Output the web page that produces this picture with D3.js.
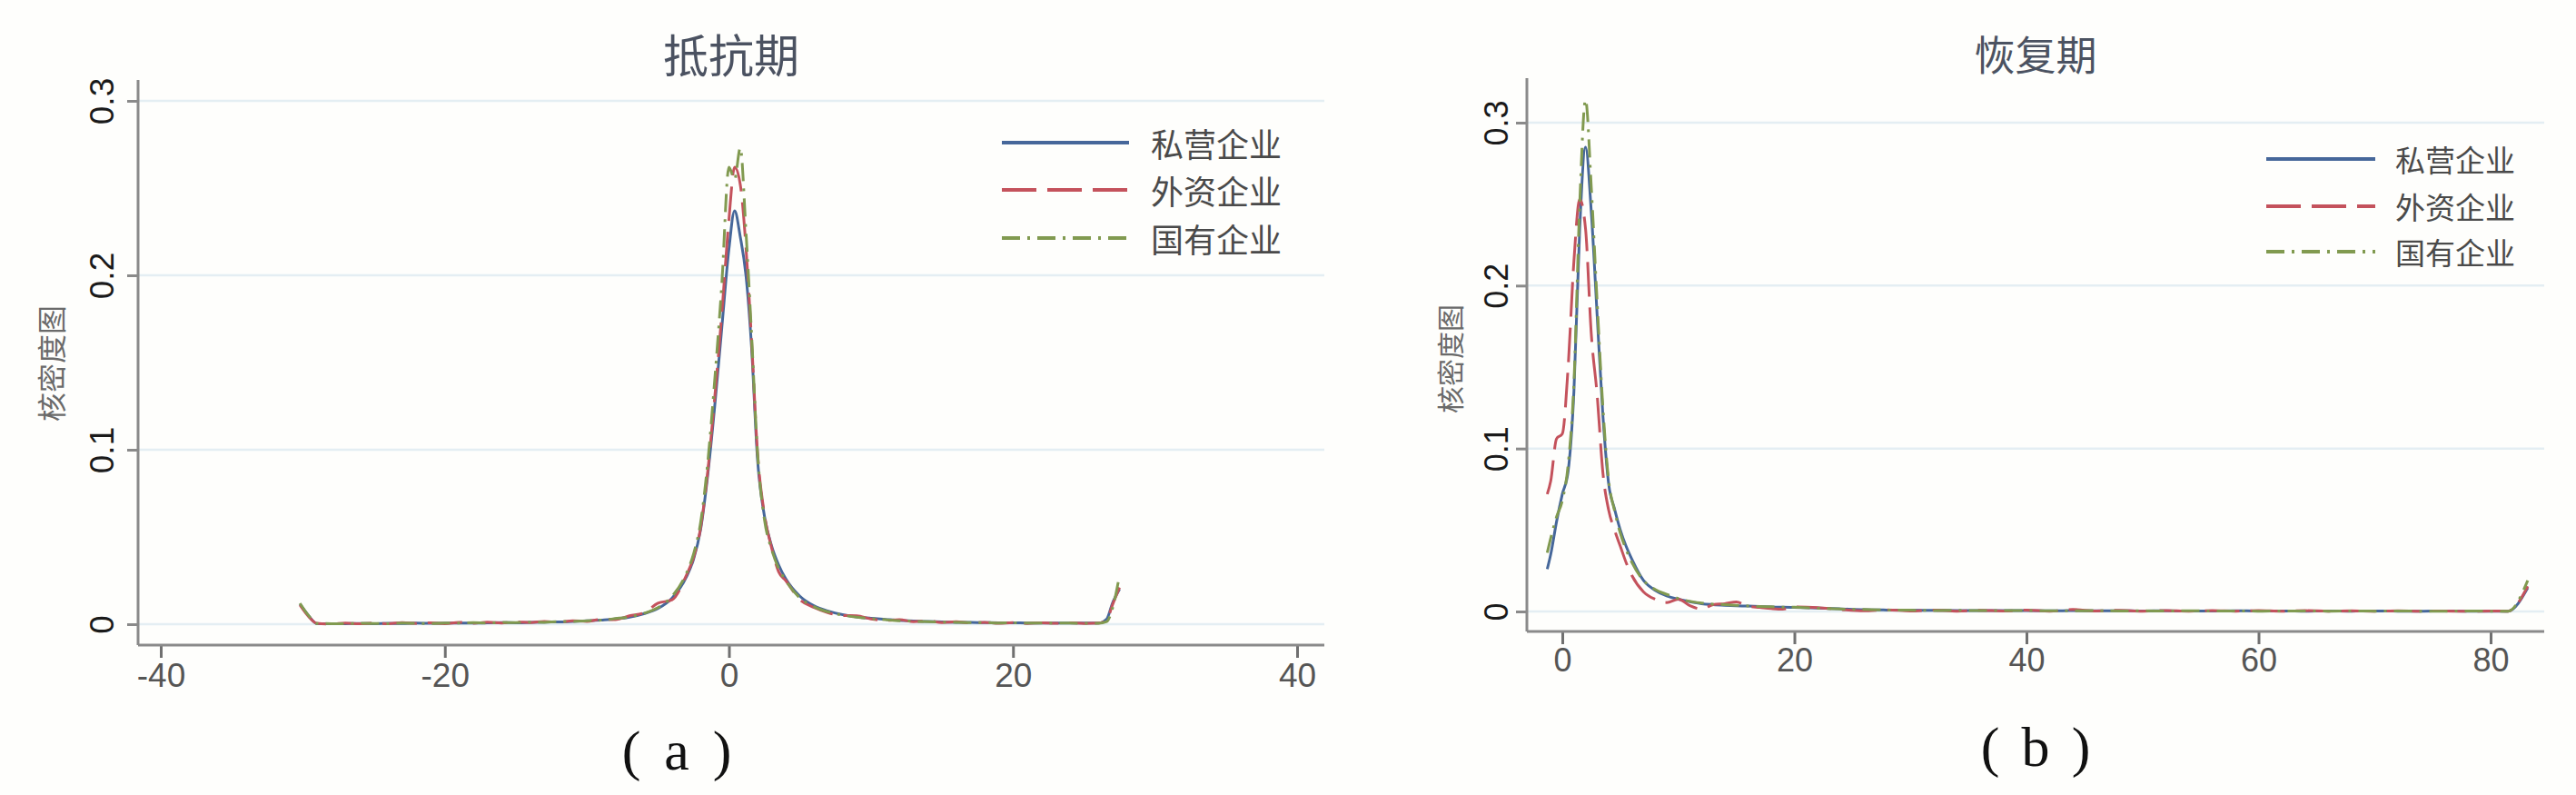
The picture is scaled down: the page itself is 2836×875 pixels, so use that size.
<!DOCTYPE html>
<html>
<head>
<meta charset="utf-8">
<script src="https://cdn.jsdelivr.net/npm/d3@7"></script>
<style>
  body { margin: 0; background: #fefefc; }
  svg { display: block; }
</style>
</head>
<body>
<script>
// series names and colours
let seriesNames = ["私营企业", "外资企业", "国有企业"];
let seriesColors = ["#46679a", "#c4525c", "#819a50"];
let seriesDash = [null, "38,12", "20,8,3,8"];

// panel (a) 抵抗期
let xA = [-30.2, -29.6, -29, -28, -27, -26, -25, -24, -23, -22, -21, -20, -19, -18, -17, -16, -15, -14, -13, -12,
    -11, -10, -9, -8, -7, -6, -5, -4, -3, -2.5, -2, -1.5, -1, -0.5, 0, 0.4, 0.8, 1.2, 1.6, 2,
    2.5, 3, 3.5, 4, 5, 6, 7, 8, 9, 10, 11, 12, 13, 14, 15, 16, 17, 18, 19, 20,
    21, 22, 23, 24, 25, 26, 26.6, 27, 27.5];
let privA = [0.0115, 0.005, 0.0003, 0.0002, 0.0003, 0.0004, 0.0003, 0.0005, 0.0004, 0.0006, 0.0005, 0.0006, 0.0007, 0.0006, 0.0008, 0.0009, 0.0008, 0.001, 0.0012, 0.0013,
    0.0016, 0.0019, 0.0024, 0.003, 0.004, 0.006, 0.009, 0.015, 0.027, 0.037, 0.054, 0.085, 0.125, 0.17, 0.215, 0.237, 0.222, 0.2, 0.158, 0.096,
    0.062, 0.045, 0.034, 0.026, 0.016, 0.0105, 0.0075, 0.0055, 0.0042, 0.0034, 0.0028, 0.0022, 0.0018, 0.0015, 0.0013, 0.0011, 0.001, 0.0009, 0.0008, 0.0008,
    0.0007, 0.0007, 0.0006, 0.0007, 0.0006, 0.0006, 0.003, 0.012, 0.02];
let foreignA = [0.011, 0.0045, 0.0005, 0.0001, 0.0006, 0.0002, 0.0007, 0.0003, 0.0009, 0.0004, 0.0008, 0.0003, 0.0011, 0.0005, 0.0012, 0.0007, 0.0014, 0.0009, 0.0016, 0.0011,
    0.002, 0.0016, 0.0028, 0.0026, 0.0048, 0.0065, 0.012, 0.014, 0.028, 0.038, 0.055, 0.087, 0.13, 0.178, 0.232, 0.262, 0.252, 0.216, 0.162, 0.1,
    0.063, 0.044, 0.03, 0.025, 0.014, 0.0095, 0.0065, 0.005, 0.0048, 0.003, 0.0022, 0.0026, 0.0014, 0.0019, 0.0009, 0.0014, 0.0007, 0.0011, 0.0005, 0.0009,
    0.0004, 0.0008, 0.0005, 0.0008, 0.0004, 0.0006, 0.0025, 0.011, 0.021];
let stateA = [0.012, 0.005, 0.0004, 0.0003, 0.0002, 0.0005, 0.0004, 0.0003, 0.0006, 0.0005, 0.0004, 0.0007, 0.0006, 0.0009, 0.0007, 0.001, 0.0009, 0.0012, 0.0011, 0.0015,
    0.0015, 0.002, 0.0023, 0.0032, 0.0042, 0.0062, 0.0095, 0.016, 0.029, 0.04, 0.058, 0.092, 0.14, 0.195, 0.262, 0.255, 0.273, 0.225, 0.165, 0.1,
    0.06, 0.043, 0.032, 0.025, 0.015, 0.01, 0.007, 0.0052, 0.004, 0.0032, 0.0026, 0.002, 0.0017, 0.0014, 0.0012, 0.0011, 0.0009, 0.0009, 0.0007, 0.0008,
    0.0006, 0.0007, 0.0006, 0.0006, 0.0005, 0.0005, 0.0015, 0.009, 0.028];
let xTicksA = [-40, -20, 0, 20, 40];

// panel (b) 恢复期
let xB = [-1.3, -1, -0.5, 0, 0.5, 1, 1.5, 2, 2.5, 3, 3.5, 4, 4.5, 5, 5.5, 6, 7, 8, 9, 10,
    11, 12, 13, 14, 15, 16, 17, 18, 19, 20, 22, 24, 26, 28, 30, 32, 34, 36, 38, 40,
    42, 44, 46, 48, 50, 52, 54, 56, 58, 60, 62, 64, 66, 68, 70, 72, 74, 76, 78, 80,
    81.5, 83.2];
let privB = [0.026, 0.035, 0.055, 0.072, 0.086, 0.135, 0.235, 0.285, 0.245, 0.182, 0.12, 0.078, 0.063, 0.05, 0.04, 0.032, 0.019, 0.013, 0.0095, 0.0075,
    0.006, 0.0048, 0.0042, 0.0038, 0.0035, 0.0033, 0.003, 0.0028, 0.0026, 0.0025, 0.0021, 0.0016, 0.0011, 0.0009, 0.0008, 0.0007, 0.0006, 0.0005, 0.0006, 0.0005,
    0.0004, 0.0005, 0.0004, 0.0004, 0.0003, 0.0004, 0.0003, 0.0003, 0.0004, 0.0003, 0.0003, 0.0002, 0.0003, 0.0002, 0.0003, 0.0002, 0.0002, 0.0003, 0.0002, 0.0002,
    0.0002, 0.0145];
let foreignB = [0.072, 0.08, 0.106, 0.109, 0.15, 0.215, 0.253, 0.235, 0.17, 0.133, 0.085, 0.062, 0.05, 0.04, 0.03, 0.022, 0.012, 0.0075, 0.0055, 0.0075,
    0.0035, 0.0015, 0.0042, 0.0048, 0.0058, 0.0032, 0.0025, 0.0018, 0.0014, 0.0028, 0.0024, 0.0012, 0.0004, 0.001, 0.0003, 0.0009, 0.0002, 0.0007, 0.0003, 0.0008,
    0.0002, 0.0012, 0.0003, 0.0007, 0.0002, 0.0006, 0.0002, 0.0005, 0.0002, 0.0006, 0.0001, 0.0005, 0.0002, 0.0004, 0.0001, 0.0004, 0.0002, 0.0003, 0.0001, 0.0003,
    0.0002, 0.0155];
let stateB = [0.036, 0.045, 0.058, 0.068, 0.09, 0.14, 0.25, 0.314, 0.26, 0.19, 0.125, 0.08, 0.062, 0.048, 0.038, 0.03, 0.019, 0.0135, 0.0105, 0.008,
    0.0062, 0.0052, 0.0045, 0.0042, 0.0038, 0.0034, 0.003, 0.0029, 0.0027, 0.0026, 0.002, 0.0015, 0.0012, 0.0009, 0.0008, 0.0006, 0.0007, 0.0005, 0.0005, 0.0006,
    0.0004, 0.0004, 0.0005, 0.0003, 0.0004, 0.0003, 0.0004, 0.0003, 0.0003, 0.0002, 0.0003, 0.0003, 0.0002, 0.0003, 0.0002, 0.0003, 0.0002, 0.0002, 0.0003, 0.0002,
    0.0001, 0.019];
let xTicksB = [0, 20, 40, 60, 80];

let yTicks = [0, 0.1, 0.2, 0.3];
let yTickLabels = ["0", "0.1", "0.2", "0.3"];

let width = 2836;
let height = 875;

let svg = d3.select("body")
    .append("svg")
    .attr("width", width)
    .attr("height", height);

function drawPanel(p) {
    let xScale = d3.scaleLinear().domain(p.xDomain).range(p.xRange);
    let yScale = d3.scaleLinear().domain([0, 0.3]).range(p.yRange);
    let g = svg.append("g");

    // grid lines
    g.selectAll("nothing")
        .data(yTicks)
        .join("line")
        .attr("x1", p.left)
        .attr("x2", p.right)
        .attr("y1", (d) => yScale(d))
        .attr("y2", (d) => yScale(d))
        .attr("stroke", "#e4eef3")
        .attr("stroke-width", 2.5);

    // y axis
    let yAxis = d3.axisLeft(yScale)
        .tickValues(yTicks)
        .tickFormat((d, i) => yTickLabels[i])
        .tickSize(12)
        .tickPadding(0);
    let ya = g.append("g")
        .attr("transform", "translate(" + p.left + ",0)")
        .call(yAxis);
    ya.select(".domain").remove();
    ya.selectAll("line").attr("stroke", "#8a8a8a").attr("stroke-width", 3);
    ya.selectAll("text")
        .attr("x", null).attr("dy", null)
        .attr("transform", (d) => "translate(" + (p.yLabelX - p.left) + ",0) rotate(-90)")
        .attr("text-anchor", "middle")
        .attr("dominant-baseline", "central")
        .style("font-family", "'Liberation Sans', Arial, sans-serif")
        .style("font-size", p.yTickSize + "px")
        .style("fill", "#1a1a1a");
    g.append("line")
        .attr("x1", p.left).attr("x2", p.left)
        .attr("y1", p.top).attr("y2", p.bottom)
        .attr("stroke", "#8a8a8a").attr("stroke-width", 3);

    // x axis (plain hyphen for negatives, as in the source)
    let xAxis = d3.axisBottom(xScale)
        .tickValues(p.xTicks)
        .tickFormat((d) => String(d))
        .tickSize(14)
        .tickPadding(p.xTickPad);
    let xa = g.append("g")
        .attr("transform", "translate(0," + p.bottom + ")")
        .call(xAxis);
    xa.select(".domain").remove();
    xa.selectAll("line").attr("stroke", "#707070").attr("stroke-width", 3);
    xa.selectAll("text")
        .style("font-family", "'Liberation Sans', Arial, sans-serif")
        .style("font-size", p.xTickSize + "px")
        .style("fill", "#555");
    g.append("line")
        .attr("x1", p.left).attr("x2", p.right)
        .attr("y1", p.bottom).attr("y2", p.bottom)
        .attr("stroke", "#8a8a8a").attr("stroke-width", 3);

    // density curves
    let lines = [p.s0, p.s1, p.s2];
    lines.forEach((vals, k) => {
        let pts = p.xs.map((x, i) => ({ x: x, y: vals[i] }));
        let line = d3.line()
            .x((d) => xScale(d.x))
            .y((d) => yScale(d.y))
            .curve(d3.curveMonotoneX);
        g.append("path")
            .attr("d", line(pts))
            .attr("fill", "none")
            .attr("stroke", seriesColors[k])
            .attr("stroke-width", 3)
            .attr("stroke-dasharray", seriesDash[k]);
    });

    // legend
    let lg = g.append("g");
    lg.selectAll("nothing")
        .data(seriesNames)
        .join("line")
        .attr("x1", p.legX1).attr("x2", p.legX2)
        .attr("y1", (d, i) => p.legY[i]).attr("y2", (d, i) => p.legY[i])
        .attr("stroke", (d, i) => seriesColors[i])
        .attr("stroke-width", 4)
        .attr("stroke-dasharray", (d, i) => seriesDash[i]);
    lg.selectAll("nothing")
        .data(seriesNames)
        .join("text")
        .attr("x", p.legTextX)
        .attr("y", (d, i) => p.legY[i])
        .text((d) => d)
        .attr("dominant-baseline", "central")
        .style("font-family", "'Noto Sans CJK SC', sans-serif")
        .style("font-size", p.legSize + "px")
        .style("fill", "#4a4a4a");

    // title
    g.append("text")
        .attr("x", (p.left + p.right) / 2)
        .attr("y", 58)
        .text(p.title)
        .attr("text-anchor", "middle")
        .attr("dominant-baseline", "central")
        .style("font-family", "'Noto Sans CJK SC', sans-serif")
        .style("font-size", p.titleSize + "px")
        .style("fill", "#4b5261");

    // y label
    g.append("text")
        .attr("transform", "translate(" + p.yTitleX + "," + p.yTitleY + ") rotate(-90)")
        .text("核密度图")
        .attr("text-anchor", "middle")
        .attr("dominant-baseline", "central")
        .style("font-family", "'Noto Sans CJK SC', sans-serif")
        .style("font-size", p.yTitleSize + "px")
        .style("fill", "#6a6a6a");

    // caption: bracket, letter, bracket placed apart like the source
    let cap = g.append("g")
        .style("font-family", "'Liberation Serif', 'Times New Roman', serif")
        .style("font-size", "62px")
        .style("fill", "#111");
    let capParts = ["(", p.caption, ")"];
    let capOffsets = [-50, 0, 50];
    cap.selectAll("nothing")
        .data(capParts)
        .join("text")
        .attr("x", (d, i) => p.capX + capOffsets[i])
        .attr("y", p.capY)
        .text((d) => d)
        .attr("text-anchor", "middle")
        .attr("dominant-baseline", "central");
}

drawPanel({
    xs: xA, s0: privA, s1: foreignA, s2: stateA, xTicks: xTicksA,
    xDomain: [-40, 40], xRange: [177, 1428], yRange: [687, 111],
    left: 152, right: 1458, top: 88, bottom: 710,
    yLabelX: 112, yTickSize: 37, xTickSize: 37, xTickPad: 6,
    legX1: 1103, legX2: 1243, legTextX: 1267, legY: [157, 209, 262], legSize: 36,
    title: "抵抗期", titleSize: 50, yTitleX: 55, yTitleY: 400, yTitleSize: 32,
    caption: "a", capX: 745, capY: 826
});

drawPanel({
    xs: xB, s0: privB, s1: foreignB, s2: stateB, xTicks: xTicksB,
    xDomain: [0, 80], xRange: [1720, 2742], yRange: [673, 135],
    left: 1681, right: 2801, top: 86, bottom: 695,
    yLabelX: 1647, yTickSize: 36, xTickSize: 36, xTickPad: 4,
    legX1: 2495, legX2: 2615, legTextX: 2637, legY: [175, 227, 277], legSize: 33,
    title: "恢复期", titleSize: 45, yTitleX: 1595, yTitleY: 395, yTitleSize: 30,
    caption: "b", capX: 2241, capY: 822
});
</script>
</body>
</html>
